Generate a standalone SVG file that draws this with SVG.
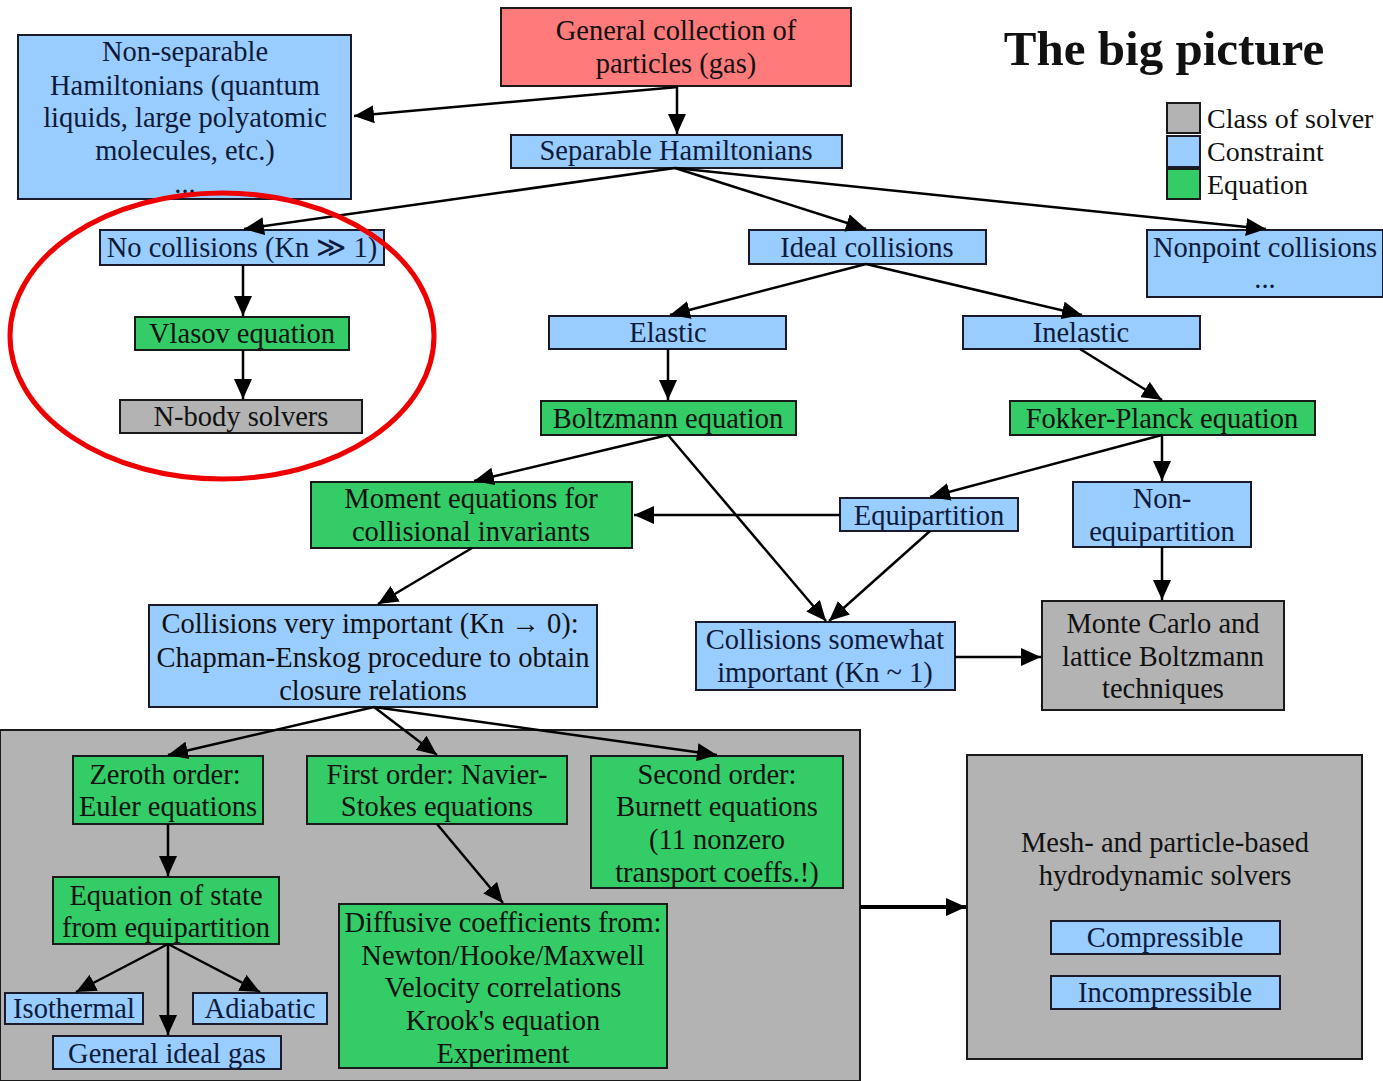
<svg xmlns="http://www.w3.org/2000/svg" width="1383" height="1081" viewBox="0 0 1383 1081">
<defs>
<marker id="ah" markerUnits="userSpaceOnUse" markerWidth="22" markerHeight="18" refX="20" refY="9" orient="auto">
<path d="M0,0 L20,9 L0,18 z" fill="#000"/>
</marker>
<style>
.b{fill:#99ccff;stroke:#1a1a2a;stroke-width:2}
.g{fill:#33cc66;stroke:#1a1a1a;stroke-width:2}
.s{fill:#b3b3b3;stroke:#1a1a1a;stroke-width:2}
.r{fill:#ff7a7a;stroke:#1a1a1a;stroke-width:2}
text{font-family:"Liberation Serif","DejaVu Serif",serif;font-size:28.5px;text-anchor:middle;fill:#111}
.bt{fill:#0d1a3a}
.c line,.c path{stroke:#000;stroke-width:2.5;fill:none;marker-end:url(#ah)}
</style>
</defs>
<rect width="1383" height="1081" fill="#fff"/>

<g id="container">
<rect x="0" y="730" width="860" height="351" class="s"/>
</g>

<g id="general"><rect x="501" y="8" width="350" height="78" class="r"/>
<text x="676" y="40">General collection of</text><text x="676" y="73">particles (gas)</text></g>

<g id="nonsep"><rect x="18" y="35" width="333" height="164" class="b"/>
<text class="bt" x="185" y="61">Non-separable</text><text class="bt" x="185" y="95">Hamiltonians (quantum</text>
<text class="bt" x="185" y="127">liquids, large polyatomic</text><text class="bt" x="185" y="160">molecules, etc.)</text>
<text class="bt" x="185" y="193">...</text></g>

<g id="sep"><rect x="511" y="135" width="331" height="33" class="b"/><text class="bt" x="676" y="160">Separable Hamiltonians</text></g>

<g id="title"><text x="1164" y="65" style="font-size:49px;font-weight:bold">The big picture</text></g>

<g id="legend">
<rect x="1167" y="103" width="33" height="30" class="s"/>
<rect x="1167" y="136" width="33" height="31" class="b"/>
<rect x="1167" y="169" width="33" height="30" class="g"/>
<text x="1207" y="128" style="text-anchor:start;font-size:28px">Class of solver</text>
<text x="1207" y="161" style="text-anchor:start;font-size:28px">Constraint</text>
<text x="1207" y="194" style="text-anchor:start;font-size:28px">Equation</text>
</g>

<g id="nocoll"><rect x="100" y="230" width="284" height="35" class="b"/><text class="bt" x="242" y="257">No collisions (Kn ≫ 1)</text></g>
<g id="ideal"><rect x="749" y="230" width="237" height="34" class="b"/><text class="bt" x="867" y="257">Ideal collisions</text></g>
<g id="nonpoint"><rect x="1147" y="230" width="236" height="67" class="b"/><text class="bt" x="1265" y="257">Nonpoint collisions</text><text class="bt" x="1265" y="288">...</text></g>
<g id="vlasov"><rect x="135" y="317" width="214" height="33" class="g"/><text x="242" y="343">Vlasov equation</text></g>
<g id="nbody"><rect x="120" y="400" width="242" height="33" class="s"/><text x="241" y="426">N-body solvers</text></g>
<g id="elastic"><rect x="549" y="316" width="237" height="33" class="b"/><text class="bt" x="668" y="342">Elastic</text></g>
<g id="inelastic"><rect x="963" y="316" width="237" height="33" class="b"/><text class="bt" x="1081" y="342">Inelastic</text></g>
<g id="boltz"><rect x="541" y="401" width="255" height="34" class="g"/><text x="668" y="428">Boltzmann equation</text></g>
<g id="fokker"><rect x="1010" y="401" width="305" height="34" class="g"/><text x="1162" y="428">Fokker-Planck equation</text></g>
<g id="moment"><rect x="311" y="482" width="321" height="66" class="g"/><text x="471" y="508">Moment equations for</text><text x="471" y="541">collisional invariants</text></g>
<g id="equi"><rect x="840" y="498" width="178" height="33" class="b"/><text class="bt" x="929" y="525">Equipartition</text></g>
<g id="nonequi"><rect x="1073" y="482" width="178" height="65" class="b"/><text class="bt" x="1162" y="508">Non-</text><text class="bt" x="1162" y="541">equipartition</text></g>
<g id="veryimp"><rect x="149" y="605" width="448" height="102" class="b"/>
<text x="370" y="633">Collisions very important (Kn → 0):</text>
<text x="373" y="667">Chapman-Enskog procedure to obtain</text>
<text x="373" y="700">closure relations</text></g>
<g id="somewhat"><rect x="696" y="622" width="259" height="68" class="b"/><text class="bt" x="825" y="649">Collisions somewhat</text><text class="bt" x="825" y="682">important (Kn ~ 1)</text></g>
<g id="monte"><rect x="1042" y="601" width="242" height="109" class="s"/><text x="1163" y="633">Monte Carlo and</text><text x="1163" y="666">lattice Boltzmann</text><text x="1163" y="698">techniques</text></g>

<g id="zeroth"><rect x="73" y="756" width="190" height="68" class="g"/><text x="165" y="784">Zeroth order:</text><text x="168" y="816">Euler equations</text></g>
<g id="first"><rect x="307" y="756" width="260" height="68" class="g"/><text x="437" y="784">First order:  Navier-</text><text x="437" y="816">Stokes equations</text></g>
<g id="second"><rect x="591" y="756" width="252" height="132" class="g"/><text x="717" y="784">Second order:</text><text x="717" y="816">Burnett equations</text><text x="717" y="849">(11 nonzero</text><text x="717" y="882">transport coeffs.!)</text></g>
<g id="eos"><rect x="53" y="877" width="226" height="67" class="g"/><text x="166" y="905">Equation of state</text><text x="166" y="937">from equipartition</text></g>
<g id="diffusive"><rect x="339" y="904" width="328" height="164" class="g"/>
<text x="503" y="932">Diffusive coefficients from:</text><text x="503" y="965">Newton/Hooke/Maxwell</text>
<text x="503" y="997">Velocity correlations</text><text x="503" y="1030">Krook's equation</text><text x="503" y="1063">Experiment</text></g>
<g id="iso"><rect x="5" y="993" width="138" height="31" class="b"/><text class="bt" x="74" y="1018">Isothermal</text></g>
<g id="adia"><rect x="193" y="993" width="134" height="31" class="b"/><text class="bt" x="260" y="1018">Adiabatic</text></g>
<g id="idealgas"><rect x="53" y="1036" width="228" height="33" class="b"/><text class="bt" x="167" y="1063">General ideal gas</text></g>

<g id="mesh"><rect x="967" y="755" width="395" height="304" class="s"/>
<text x="1165" y="852">Mesh- and particle-based</text><text x="1165" y="885">hydrodynamic solvers</text>
<rect x="1051" y="921" width="229" height="33" class="b"/><text class="bt" x="1165" y="947">Compressible</text>
<rect x="1051" y="976" width="229" height="33" class="b"/><text class="bt" x="1165" y="1002">Incompressible</text></g>

<g id="connectors" class="c">
<line x1="678" y1="87" x2="354" y2="116"/>
<line x1="677" y1="87" x2="677" y2="134"/>
<line x1="675" y1="168" x2="244" y2="229"/>
<line x1="675" y1="168" x2="866" y2="229"/>
<line x1="675" y1="168" x2="1266" y2="229"/>
<line x1="243" y1="265" x2="243" y2="316"/>
<line x1="243" y1="350" x2="243" y2="399"/>
<line x1="866" y1="264" x2="670" y2="315"/>
<line x1="866" y1="264" x2="1082" y2="315"/>
<line x1="668" y1="349" x2="668" y2="400"/>
<line x1="1080" y1="349" x2="1162" y2="400"/>
<line x1="668" y1="435" x2="474" y2="481"/>
<line x1="668" y1="435" x2="826" y2="621"/>
<line x1="1162" y1="435" x2="930" y2="497"/>
<line x1="1162" y1="435" x2="1162" y2="481"/>
<line x1="840" y1="515" x2="634" y2="515"/>
<line x1="930" y1="531" x2="829" y2="621"/>
<line x1="472" y1="548" x2="378" y2="604"/>
<line x1="1162" y1="547" x2="1162" y2="600"/>
<line x1="955" y1="657" x2="1041" y2="657"/>
<line x1="374" y1="707" x2="168" y2="755"/>
<line x1="374" y1="707" x2="437" y2="755"/>
<line x1="374" y1="707" x2="717" y2="755"/>
<line x1="168" y1="824" x2="168" y2="876"/>
<line x1="437" y1="824" x2="503" y2="903"/>
<line x1="168" y1="944" x2="76" y2="992"/>
<line x1="168" y1="944" x2="168" y2="1035"/>
<line x1="168" y1="944" x2="260" y2="992"/>
<line x1="860" y1="907" x2="966" y2="907" style="stroke-width:4"/>
</g>

<g id="highlight">
<ellipse cx="222" cy="336" rx="212" ry="143" fill="none" stroke="#ee0000" stroke-width="5"/>
</g>
</svg>
